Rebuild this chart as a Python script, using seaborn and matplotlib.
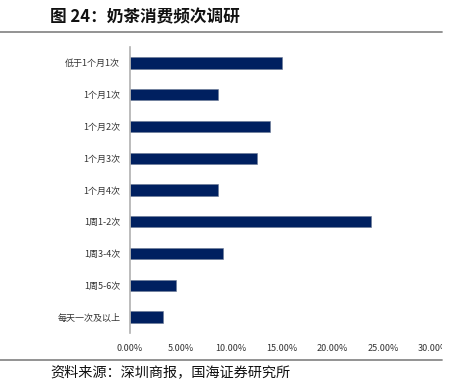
import pandas as pd
import seaborn as sns
from matplotlib import pyplot as plt
from matplotlib.lines import Line2D
from matplotlib.ticker import FuncFormatter
from matplotlib.transforms import Bbox, TransformedBbox

# Data (share of respondents, %)
categories = ['低于1个月1次', '1个月1次', '1个月2次', '1个月3次', '1个月4次',
              '1周1-2次', '1周3-4次', '1周5-6次', '每天一次及以上']
shares = [15.0, 8.7, 13.8, 12.5, 8.7, 23.8, 9.2, 4.5, 3.3]
x_ticks = [0, 5, 10, 15, 20, 25, 30]

df = pd.DataFrame({'category': categories, 'share': shares})

sns.set_theme(style='white')
plt.rcParams['font.family'] = ['Noto Sans CJK SC', 'DejaVu Sans']

fig = plt.figure(figsize=(4.62, 3.83), dpi=100)
ax = fig.add_axes([130 / 462, 1 - 333 / 383, (433.6 - 130) / 462, (333 - 47) / 383])

sns.barplot(data=df, x='share', y='category', color='#002060', width=0.36,
            saturation=1, edgecolor='#6b7894', linewidth=0.4, ax=ax)

ax.set_xlim(0, 30)
ax.set_xticks(x_ticks)
ax.xaxis.set_major_formatter(FuncFormatter(lambda v, _: f'{v:.2f}%'))
ax.set_xlabel('')
ax.set_ylabel('')
ax.tick_params(axis='both', length=0, labelsize=6.5, labelcolor='#333333')
ax.tick_params(axis='x', pad=8)
ax.tick_params(axis='y', pad=7)

for side in ['top', 'right', 'bottom']:
    ax.spines[side].set_visible(False)
ax.spines['left'].set_color('#b0b0b0')
ax.spines['left'].set_linewidth(1.2)

# the last tick label is cut off at the frame edge in the original
clip = TransformedBbox(Bbox([[0, 0], [442 / 462, 1]]), fig.transFigure)
for lbl in ax.get_xticklabels():
    lbl.set_clip_box(clip)
    lbl.set_clip_on(True)

# title and source with rules
fig.text(50 / 462, 1 - 17 / 383, '图 24：奶茶消费频次调研', fontsize=12,
         fontweight='bold', va='center', ha='left', color='#111111')
fig.add_artist(Line2D([0, 442 / 462], [1 - 32 / 383] * 2, color='#8a8a8a',
                      linewidth=1.3, transform=fig.transFigure))
fig.add_artist(Line2D([0, 442 / 462], [1 - 360 / 383] * 2, color='#8a8a8a',
                      linewidth=1.3, transform=fig.transFigure))
fig.text(50 / 462, 1 - 372 / 383, '资料来源：深圳商报，国海证券研究所', fontsize=10.2,
         va='center', ha='left', color='#111111')

fig.savefig('out.png', dpi=100)
